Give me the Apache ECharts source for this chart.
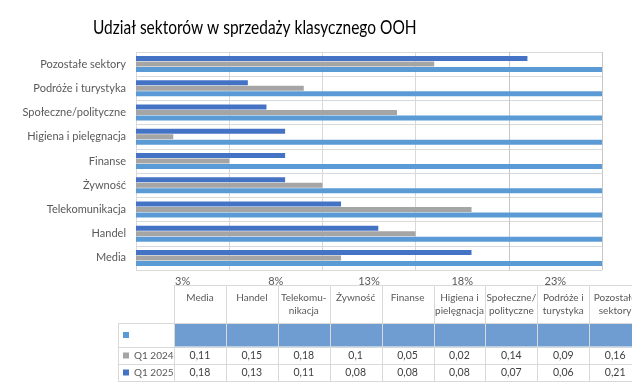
<!DOCTYPE html>
<html><head><meta charset="utf-8">
<script src="https://cdn.jsdelivr.net/npm/echarts@6/dist/echarts.min.js"></script>
<style>html,body{margin:0;padding:0;background:#fff}#c{width:642px;height:384px}</style>
</head><body><div id="c"></div>
<script>
// ---- data ----
const titleText = "Udział sektorów w sprzedaży klasycznego OOH";
const categories = ["Media","Handel","Telekomunikacja","Żywność","Finanse","Higiena i pielęgnacja","Społeczne/polityczne","Podróże i turystyka","Pozostałe sektory"];
const tableHeaders = ["Media","Handel","Telekomu-\nnikacja","Żywność","Finanse","Higiena i\npielęgnacja","Społeczne/\npolityczne","Podróże i\nturystyka","Pozostałe\nsektory"];
const seriesBlankName = "";
const seriesBlank = [0.25,0.25,0.25,0.25,0.25,0.25,0.25,0.25,0.25];
const q2024Name = "Q1 2024";
const q2024 = [0.11,0.15,0.18,0.10,0.05,0.02,0.14,0.09,0.16];
const q2025Name = "Q1 2025";
const q2025 = [0.18,0.13,0.11,0.08,0.08,0.08,0.07,0.06,0.21];
const xTickLabels = ["3%","8%","13%","18%","23%"];

// ---- styles ----
const C_DARK = "#4472C4", C_GREY = "#A5A5A5", C_LIGHT = "#5B9BD5", C_FILL = "#6F9DD1";
const TXT = "#595959", GRID = "#D9D9D9", GRID2 = "#C6C6C6";
const FONT = "Lato, 'Open Sans', sans-serif";

const chart = echarts.init(document.getElementById('c'), null, {renderer:'canvas'});

// ---- table graphic built from the arrays ----
const tX0 = 118, tC0 = 174, colW = 51.9, hTop = 285;
const rowBounds = [323, 347, 364, 381];
const nCols = tableHeaders.length;
const tRight = tC0 + colW * nCols;
const g = [];
// title (horizontally condensed to mimic the narrow original face)
g.push({type:'text', x:93, y:28, scaleX:0.815, style:{text:titleText, fill:'#000', font:`19px ${FONT}`, textAlign:'left', textVerticalAlign:'middle'}, silent:true});
const line = (x1,y1,x2,y2) => g.push({type:'line', shape:{x1,y1,x2,y2}, style:{stroke:GRID, lineWidth:1}, silent:true});
g.push({type:'rect', shape:{x:tC0, y:rowBounds[0]+0.5, width:tRight-tC0, height:rowBounds[1]-rowBounds[0]-1}, style:{fill:C_FILL}, silent:true});
line(tC0, hTop+0.5, tRight, hTop+0.5);
rowBounds.forEach(y => line(tX0, y+0.5, tRight, y+0.5));
line(tX0+0.5, rowBounds[0], tX0+0.5, rowBounds[3]);
for (let i=0;i<=nCols;i++){ const x=Math.round(tC0+i*colW)+0.5; line(x, hTop, x, rowBounds[3]); }
tableHeaders.forEach((h,i)=>{
  g.push({type:'text', x:tC0+colW*(i+0.5), y:hTop+6, style:{text:h, fill:TXT, font:`10px ${FONT}`, textAlign:'center', textVerticalAlign:'top', lineHeight:13}, silent:true});
});
const rows = [
  {name:seriesBlankName, color:C_LIGHT, vals:null},
  {name:q2024Name, color:C_GREY, vals:q2024},
  {name:q2025Name, color:C_DARK, vals:q2025}
];
rows.forEach((r,ri)=>{
  const yc = (rowBounds[ri]+rowBounds[ri+1])/2;
  g.push({type:'rect', shape:{x:123, y:yc-3, width:6, height:6}, style:{fill:r.color}, silent:true});
  if (r.name) g.push({type:'text', x:134, y:yc, style:{text:r.name, fill:TXT, font:`10px ${FONT}`, textAlign:'left', textVerticalAlign:'middle'}, silent:true});
  if (r.vals) r.vals.forEach((v,i)=>{
    g.push({type:'text', x:tC0+colW*(i+0.5), y:yc, style:{text:String(v).replace('.',','), fill:'#404040', font:`10.5px ${FONT}`, textAlign:'center', textVerticalAlign:'middle'}, silent:true});
  });
});
g.push({type:'rect', shape:{x:632, y:280, width:20, height:110}, style:{fill:'#fff'}, silent:true, z:200});

chart.setOption({
  animation:false,
  grid:{left:136, right:40, top:52, bottom:114, containLabel:false},
  xAxis:[
    {type:'value', min:0, max:0.25, show:false},
    {type:'category', data:xTickLabels, position:'bottom', boundaryGap:true,
     axisLine:{show:false}, axisTick:{show:false},
     axisLabel:{color:TXT, fontFamily:FONT, fontSize:11, margin:6},
     splitLine:{show:true, lineStyle:{color:[GRID,GRID,GRID,GRID,GRID2,GRID2], width:1}}}
  ],
  yAxis:{type:'category', data:categories,
    axisLine:{show:false}, axisTick:{show:false},
    axisLabel:{color:TXT, fontFamily:FONT, fontSize:11, margin:10},
    splitLine:{show:true, lineStyle:{color:GRID, width:1}}},
  series:[
    {name:q2025Name, type:'bar', xAxisIndex:0, data:q2025, barWidth:5, barGap:'10%', itemStyle:{color:C_DARK}},
    {name:q2024Name, type:'bar', xAxisIndex:0, data:q2024, barWidth:5, barGap:'10%', itemStyle:{color:C_GREY}},
    {name:seriesBlankName, type:'bar', xAxisIndex:0, data:seriesBlank, barWidth:5, barGap:'10%', itemStyle:{color:C_LIGHT}}
  ],
  graphic:g
});
</script></body></html>
